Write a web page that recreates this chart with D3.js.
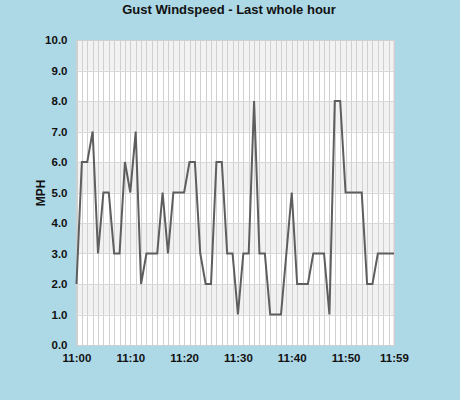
<!DOCTYPE html>
<html>
<head>
<meta charset="utf-8">
<script src="https://cdn.jsdelivr.net/npm/d3@7"></script>
<style>
  html, body { margin: 0; padding: 0; background: #add8e6; }
  svg { display: block; }
  text { font-family: "Liberation Sans", Arial, sans-serif; font-weight: bold; fill: #111; }
</style>
</head>
<body>
<svg id="chart" width="460" height="400"></svg>
<script>
// Data: gust speed (MPH) per minute, 11:00 .. 11:59
const minutes = d3.range(0, 60);
const gustMph = [2, 6, 6, 7, 3, 5, 5, 3, 3, 6,
                 5, 7, 2, 3, 3, 3, 5, 3, 5, 5,
                 5, 6, 6, 3, 2, 2, 6, 6, 3, 3,
                 1, 3, 3, 8, 3, 3, 1, 1, 1, 3,
                 5, 2, 2, 2, 3, 3, 3, 1, 8, 8,
                 5, 5, 5, 5, 2, 2, 3, 3, 3, 3];
const xTickMinutes = [0, 10, 20, 30, 40, 50, 59];
const xTickLabels = ["11:00", "11:10", "11:20", "11:30", "11:40", "11:50", "11:59"];
const yTicks = [0, 1, 2, 3, 4, 5, 6, 7, 8, 9, 10];
const titleText = "Gust Windspeed - Last whole hour";
const yLabel = "MPH";

const svg = d3.select("#chart");
const plot = { left: 76.5, right: 394, top: 40, bottom: 345 };

const x = d3.scaleLinear().domain([0, 59]).range([plot.left, plot.right]);
const y = d3.scaleLinear().domain([0, 10]).range([plot.bottom, plot.top]);

// background of plot
svg.append("rect")
  .attr("x", plot.left).attr("y", plot.top)
  .attr("width", plot.right - plot.left).attr("height", plot.bottom - plot.top)
  .attr("fill", "#ffffff");

// alternating bands
svg.append("g").selectAll("rect")
  .data(yTicks.slice(0, -1).filter(v => v % 2 === 1))
  .join("rect")
  .attr("x", plot.left)
  .attr("y", d => y(d + 1))
  .attr("width", plot.right - plot.left)
  .attr("height", d => y(d) - y(d + 1))
  .attr("fill", "#f2f2f2");

// vertical grid
svg.append("g").selectAll("line")
  .data(minutes)
  .join("line")
  .attr("x1", d => Math.round(x(d)) + 0.5).attr("x2", d => Math.round(x(d)) + 0.5)
  .attr("y1", plot.top).attr("y2", plot.bottom)
  .attr("stroke", "#d0d0d0").attr("stroke-width", 1);

// horizontal grid
svg.append("g").selectAll("line")
  .data(yTicks)
  .join("line")
  .attr("x1", plot.left).attr("x2", plot.right)
  .attr("y1", d => Math.round(y(d)) + 0.5).attr("y2", d => Math.round(y(d)) + 0.5)
  .attr("stroke", "#d8d8d8").attr("stroke-width", 1);

// border
svg.append("rect")
  .attr("x", plot.left).attr("y", plot.top + 0.5)
  .attr("width", plot.right - plot.left).attr("height", plot.bottom - plot.top)
  .attr("fill", "none").attr("stroke", "#d0d0d0");

// line
const line = d3.line()
  .x((d, i) => x(minutes[i]))
  .y(d => y(d));
svg.append("path")
  .datum(gustMph)
  .attr("d", line)
  .attr("fill", "none")
  .attr("stroke", "#5e5e5e")
  .attr("stroke-width", 2)
  .attr("stroke-linejoin", "miter");

// y axis
const yAxis = d3.axisLeft(y).tickValues(yTicks).tickFormat(d3.format(".1f")).tickSize(0).tickPadding(9);
const yG = svg.append("g").attr("transform", `translate(${plot.left},0)`).call(yAxis);
yG.select(".domain").remove();
yG.selectAll("text").attr("font-size", 11.5).attr("fill", "#111")
  .style("font-family", '"Liberation Sans", Arial, sans-serif').style("font-weight", "bold");

// x axis
const xAxis = d3.axisBottom(x).tickValues(xTickMinutes)
  .tickFormat((d, i) => xTickLabels[i]).tickSize(0).tickPadding(9);
const xG = svg.append("g").attr("transform", `translate(0,${plot.bottom})`).call(xAxis);
xG.select(".domain").remove();
xG.selectAll("text").attr("font-size", 11.5).attr("fill", "#111")
  .style("font-family", '"Liberation Sans", Arial, sans-serif').style("font-weight", "bold");

// title
svg.append("text")
  .attr("x", 229).attr("y", 14)
  .attr("text-anchor", "middle")
  .attr("font-size", 13)
  .text(titleText);

// y label
svg.append("text")
  .attr("transform", "translate(45,193) rotate(-90)")
  .attr("text-anchor", "middle")
  .attr("font-size", 12)
  .text(yLabel);
</script>
</body>
</html>
